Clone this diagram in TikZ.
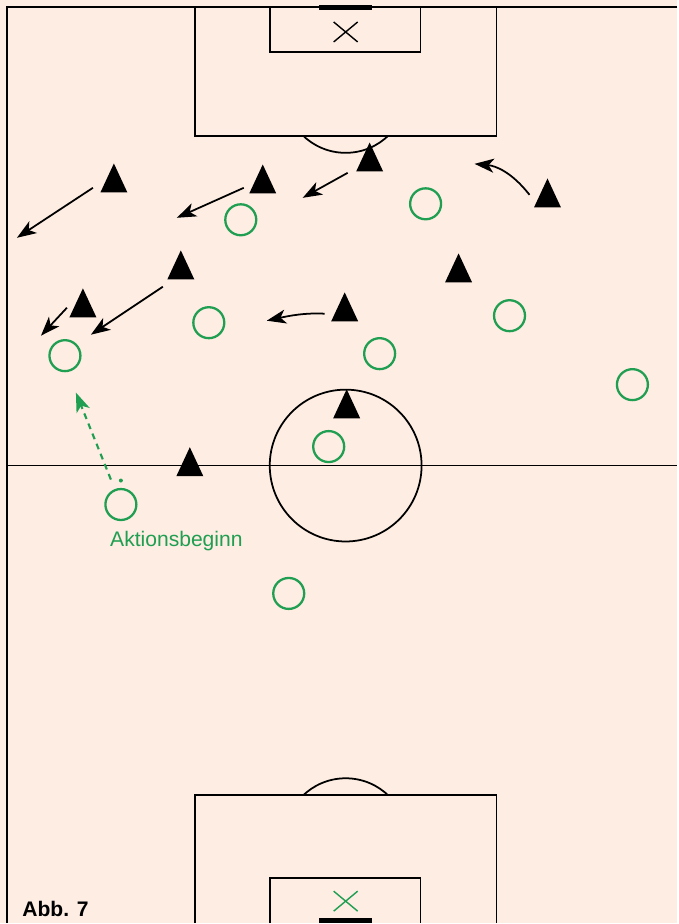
\documentclass[tikz,border=0pt]{standalone}
\usepackage{fontspec}
\setmainfont{Liberation Sans}
\usepackage{xcolor}
\usetikzlibrary{arrows.meta, shapes.geometric}

\definecolor{pitch}{RGB}{253,237,226}
\definecolor{team}{RGB}{32,158,82}

\begin{document}
\begin{tikzpicture}[x=0.02cm, y=-0.02cm,
    field/.style={line width=1pt},
    attacker/.style={circle, draw=team, line width=1.3pt, minimum size=0.62cm, inner sep=0pt},
    defender/.style={isosceles triangle, isosceles triangle stretches, shape border rotate=90,
      fill=black, inner sep=0pt, minimum width=0.54cm, minimum height=0.58cm, anchor=lower side},
    run/.style={line width=1pt, -{Stealth[length=11pt, width=8pt, inset=3pt]}},
    start/.style={team, line width=1.2pt, dash pattern=on 3.4pt off 2.8pt, -{Stealth[length=11pt, width=8pt, inset=3pt]}}]

      % pitch
      \fill[pitch] (0,0) rectangle (678,924);
      \draw[field] (678,7) -- (7,7) -- (7,924);
      \draw[field] (7,466) -- (678,466);
      \draw[field] (346,466) circle[radius=1.52cm];

      % top goal
      \draw[field] (195,7) rectangle (497,136);
      \draw[field] (270,7) rectangle (421,52);
      \fill (319,5) rectangle (372,10);
      \draw[line width=0.8pt] (334,22) -- (358,42) (334,42) -- (358,22);
      \begin{scope}
        \clip (195,136) rectangle (497,200);
        \draw[field] (346,91.4) circle[radius=1.232cm];
      \end{scope}

      % bottom goal
      \draw[field] (195,924) -- (195,796) -- (497,796) -- (497,924);
      \draw[field] (270,924) -- (270,879) -- (421,879) -- (421,924);
      \fill (319,919) rectangle (372,924);
      \draw[team, line width=0.8pt] (334,892) -- (358,912) (334,912) -- (358,892);
      \begin{scope}
        \clip (195,700) rectangle (497,796);
        \draw[field] (346,840.6) circle[radius=1.232cm];
      \end{scope}

      % defenders
      \foreach \n/\x/\y in {1/114/193, 2/263/194, 3/181/280, 4/83/318, 5/370/172,
                            6/548/208, 7/459/283, 8/345/322, 9/347/419, 10/190/477} {
        \node[defender] (d\n) at (\x,\y) {};
      }

      % attackers
      \foreach \n/\x/\y in {1/241/220, 2/209/323, 3/65/356, 4/426/204, 5/510/316,
                            6/380/354, 7/633/385, 8/329/447, 9/121/505, 10/289/594} {
        \node[attacker] (a\n) at (\x,\y) {};
      }

      % runs of the defenders
      \coordinate (r1s) at (93,188);  \coordinate (r1e) at (17,238);
      \coordinate (r2s) at (244,188); \coordinate (r2e) at (177,218);
      \coordinate (r3s) at (163,287); \coordinate (r3e) at (91,335);
      \coordinate (r4s) at (67,308);  \coordinate (r4e) at (41,336);
      \coordinate (r5s) at (348,173); \coordinate (r5e) at (303,198);
      \coordinate (r6s) at (530,195); \coordinate (r6e) at (475,164);
      \coordinate (r7s) at (325,314); \coordinate (r7e) at (267,321);
      \foreach \n in {1,...,5} {
        \draw[run] (r\n s) -- (r\n e);
      }
      \draw[run] (r6s) .. controls (512,172) and (496,166) .. (r6e);
      \draw[run] (r7s) .. controls (305,313) and (290,316) .. (r7e);

      % start of the action
      \coordinate (g0) at (121,481);
      \coordinate (gs) at (111,480);
      \coordinate (ge) at (76,393);
      \fill[team] (g0) circle[radius=0.04cm];
      \draw[start] (gs) -- (ge);
      \node[text=team, font=\fontsize{12}{14}\selectfont, anchor=base west, inner sep=0pt] (begin) at (110,547) {Aktionsbeginn};

      \node[font=\bfseries\fontsize{12}{14}\selectfont, anchor=base west, inner sep=0pt] (abb) at (22,917) {Abb. 7};
    \end{tikzpicture}
\end{document}
